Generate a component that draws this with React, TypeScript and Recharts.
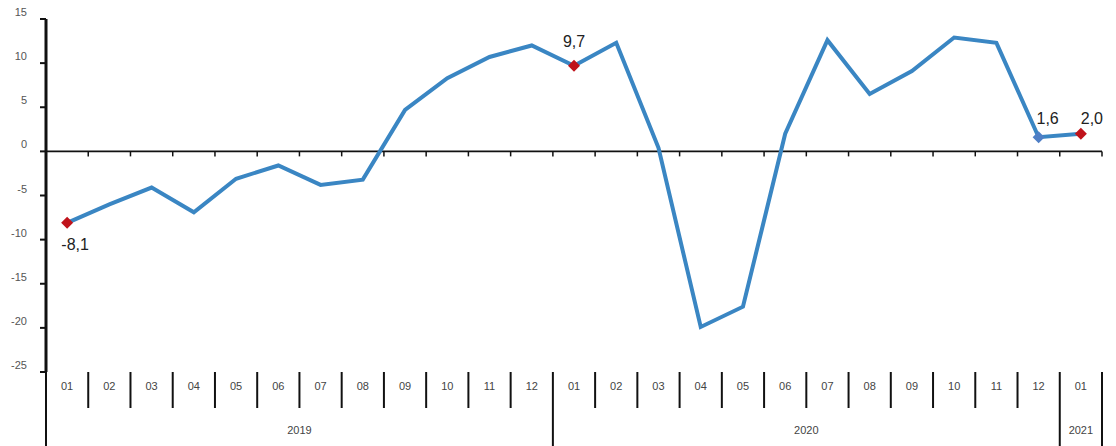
import React from 'react';
import { LineChart, Line, XAxis, YAxis, ReferenceLine, LabelList } from 'recharts';

// monthly change, %
const MONTHS = ['01', '02', '03', '04', '05', '06', '07', '08', '09', '10', '11', '12',
  '01', '02', '03', '04', '05', '06', '07', '08', '09', '10', '11', '12', '01'];
const YEARS = ['2019', '2019', '2019', '2019', '2019', '2019', '2019', '2019', '2019', '2019', '2019', '2019',
  '2020', '2020', '2020', '2020', '2020', '2020', '2020', '2020', '2020', '2020', '2020', '2020', '2021'];
const VALUES = [-8.1, -6.0, -4.1, -6.9, -3.1, -1.6, -3.8, -3.2, 4.7, 8.3, 10.7, 12.0,
  9.7, 12.3, 0.4, -19.9, -17.6, 2.0, 12.6, 6.5, 9.1, 12.9, 12.3, 1.6, 2.0];
const Y_TICKS = [-25, -20, -15, -10, -5, 0, 5, 10, 15];
const RED_POINTS = [0, 12, 24];
const BLUE_POINTS = [23];
const LABELED_POINTS = [0, 12, 23, 24];

const data = MONTHS.map((month, i) => ({ idx: i, month, year: YEARS[i], value: VALUES[i] }));

const WIDTH = 1116;
const HEIGHT = 446;
const MARGIN = { top: 19, right: 14, bottom: 0, left: 0 };
const Y_AXIS_W = 46;
const X_AXIS_H = 74;
const PLOT_W = WIDTH - MARGIN.left - MARGIN.right - Y_AXIS_W;
const BAND = PLOT_W / data.length;
const TICK_MARGIN = 14;
const FONT = '"Liberation Sans", Arial, sans-serif';

const LINE_COLOR = '#3a86c3';
const RED = '#c0131b';
const BLUE = '#4f7fc6';
const INK = '#111';

// label offsets from the point (dx, dy of the text baseline)
const LABEL_OFFSET: Record<number, { dx: number; dy: number }> = {
  0: { dx: 8, dy: 27 },
  12: { dx: 0, dy: -19 },
  23: { dx: 9, dy: -13 },
  24: { dx: 11, dy: -10 },
};

const fmt = (v: number) => v.toFixed(1).replace('.', ',');

const Diamond = (props: any) => {
  const { cx, cy, index } = props;
  let fill: string | null = null;
  if (RED_POINTS.includes(index)) fill = RED;
  if (BLUE_POINTS.includes(index)) fill = BLUE;
  if (!fill || cx == null) return <g key={`d-${index}`} />;
  const r = 6;
  return (
    <path
      key={`d-${index}`}
      d={`M${cx},${cy - r} L${cx + r},${cy} L${cx},${cy + r} L${cx - r},${cy} Z`}
      fill={fill}
    />
  );
};

const PointLabel = (props: any) => {
  const { x, y, index, value } = props;
  if (!LABELED_POINTS.includes(index)) return null;
  const off = LABEL_OFFSET[index] || { dx: 0, dy: -12 };
  return (
    <text x={x + off.dx} y={y + off.dy} textAnchor="middle" fontSize={16} fill="#222" fontFamily={FONT}>
      {fmt(value)}
    </text>
  );
};

// y tick: gray label sitting a little above its tick, plus a short mark left of the axis
const YTick = (props: any) => {
  const { x, y, payload } = props;
  const axisX = x + TICK_MARGIN + 5;
  return (
    <g>
      <line x1={axisX - 6} x2={axisX} y1={y} y2={y} stroke={INK} strokeWidth={2} />
      <text x={x} y={y - 3} textAnchor="end" fontSize={11} fill="#555" fontFamily={FONT}>
        {payload.value}
      </text>
    </g>
  );
};

const XTick = (props: any) => {
  const { x, y, payload } = props;
  const i = payload.value as number;
  const d = data[i];
  const left = x - BAND / 2;
  const isYearStart = i === 0 || data[i - 1].year !== d.year;
  const isLast = i === data.length - 1;
  const count = data.filter((r) => r.year === d.year).length;
  return (
    <g>
      <text x={x} y={y + 18} textAnchor="middle" fontSize={11} fill="#444" fontFamily={FONT}>
        {d.month}
      </text>
      <line x1={left} x2={left} y1={y} y2={isYearStart ? HEIGHT : y + 36} stroke={INK} strokeWidth={2} />
      {isLast && <line x1={left + BAND} x2={left + BAND} y1={y} y2={HEIGHT} stroke={INK} strokeWidth={2} />}
      {isYearStart && (
        <text x={x + ((count - 1) / 2) * BAND} y={y + 62} textAnchor="middle" fontSize={11} fill="#444" fontFamily={FONT}>
          {d.year}
        </text>
      )}
    </g>
  );
};

// horizontal axis through zero, with short marks at every month boundary
const ZeroAxis = (props: any) => {
  const { x1, y1, x2 } = props;
  if (x1 == null) return <g />;
  const step = (x2 - x1) / data.length;
  return (
    <g>
      <line x1={x1} x2={x2} y1={y1} y2={y1} stroke={INK} strokeWidth={1.6} />
      {data.map((_, i) => (
        <line key={i} x1={x1 + (i + 1) * step} x2={x1 + (i + 1) * step} y1={y1} y2={y1 + 5} stroke={INK} strokeWidth={1.5} />
      ))}
    </g>
  );
};

export default function App() {
  return (
    <div style={{ position: 'absolute', left: 0, top: 0, width: WIDTH, height: HEIGHT, background: '#fff' }}>
      <LineChart width={WIDTH} height={HEIGHT} data={data} margin={MARGIN}>
        <XAxis
          dataKey="idx"
          type="category"
          interval={0}
          height={X_AXIS_H}
          padding={{ left: BAND / 2, right: BAND / 2 }}
          axisLine={false}
          tickLine={false}
          tickSize={0}
          tickMargin={0}
          tick={<XTick />}
        />
        <YAxis
          width={Y_AXIS_W}
          domain={[-25, 15]}
          ticks={Y_TICKS}
          interval={0}
          axisLine={{ stroke: INK, strokeWidth: 3 }}
          tickLine={false}
          tickSize={5}
          tickMargin={TICK_MARGIN}
          tick={<YTick />}
        />
        <ReferenceLine y={0} ifOverflow="visible" shape={<ZeroAxis />} />
        <Line
          type="linear"
          dataKey="value"
          stroke={LINE_COLOR}
          strokeWidth={4}
          dot={<Diamond />}
          activeDot={false}
          isAnimationActive={false}
        >
          <LabelList dataKey="value" content={<PointLabel />} />
        </Line>
      </LineChart>
    </div>
  );
}
